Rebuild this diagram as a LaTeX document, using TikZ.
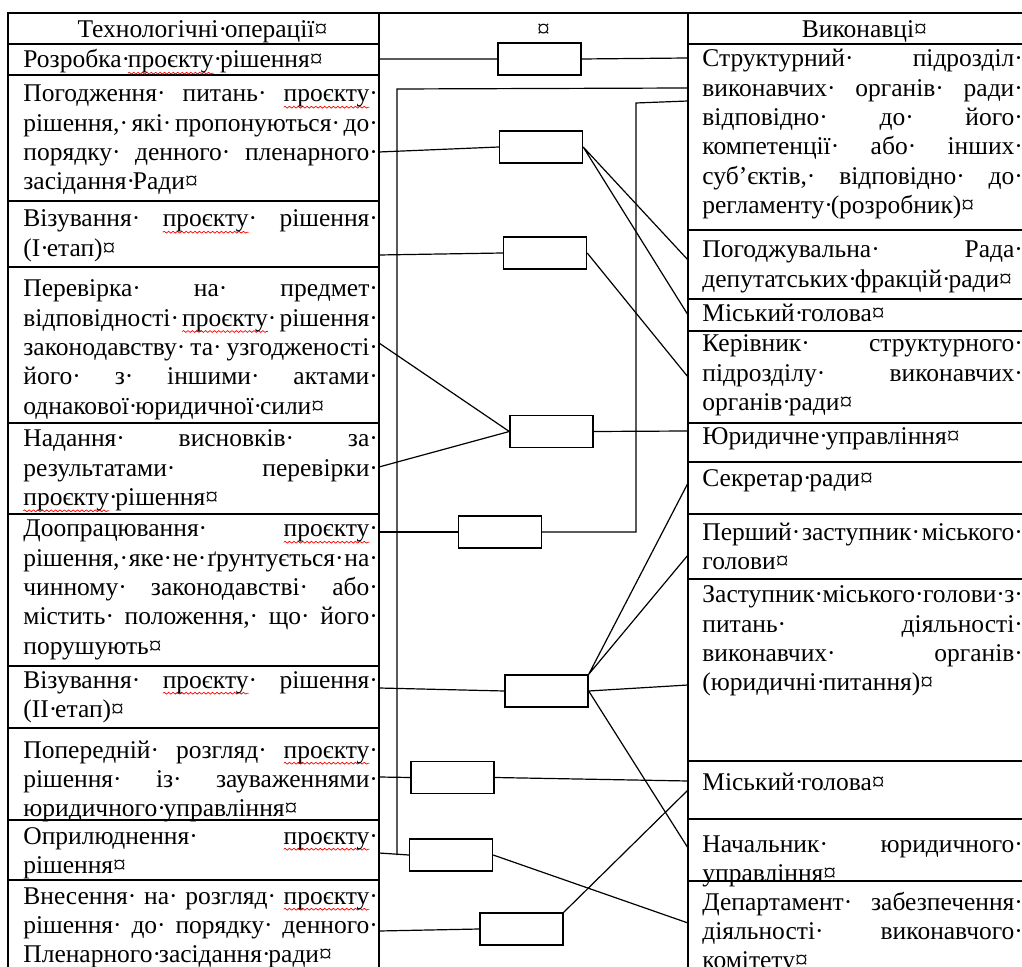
\documentclass[tikz,border=0pt]{standalone}
\usepackage{fontspec}
\setmainfont{Liberation Serif}
\usetikzlibrary{positioning,decorations.pathmorphing}
% Word-style marks: space dot and end-of-cell sign
\catcode`\·=\active
\def·{\rlap{\char"00B7}\space}
\catcode`\¤=\active
\def¤{\rlap{\char"00A4}}
\newsavebox\spellbox
\newcommand\spell[1]{\sbox\spellbox{#1}\rlap{\tikz[overlay]\draw[red,line width=.35pt,decorate,
  decoration={snake,amplitude=.45pt,segment length=2.2pt}] (0pt,-2.6pt) -- (\wd\spellbox,-2.6pt);}\usebox\spellbox}
\newcommand\cellfont{\fontsize{12.75pt}{14.65pt}\selectfont}
\tolerance=10000 \hyphenpenalty=10000 \hbadness=10000
\tikzset{
  lcell/.style={anchor=base west,text width=173pt,align=justify,inner sep=0pt,font=\cellfont},
  rcell/.style={lcell,text width=156pt},
  head/.style={anchor=base,inner sep=0pt,font=\cellfont},
  blk/.style={draw,line width=.7pt,minimum width=41.5pt,minimum height=16pt,inner sep=0pt},
  link/.style={line width=.6pt},
  tline/.style={line width=.8pt}
}
\begin{document}
\begin{tikzpicture}[x=0.5pt,y=-0.5pt]
\useasboundingbox (0,0) rectangle (1022,967);
\clip (0,0) rectangle (1022,967);
% table
\draw[tline] (8,990) -- (8,13) -- (1040,13);
\draw[tline] (379,13) -- (379,990) (688,13) -- (688,990);
\foreach \y in {44,75,201,267,423,514,666,728,820,880}
  \draw[tline] (8,\y) -- (379,\y);
\foreach \y in {44,230,299,331,423,462,514,579,761,819,881}
  \draw[tline] (688,\y) -- (1040,\y);

% headers
\node[head] (hops) at (196,38) {Технологічні·операції¤};
\node[head] (hmid) at (537,38) {¤};
\node[head] (hexe) at (858,38) {Виконавці¤};

% operations
\node[lcell] (op1) at (23,68) {Розробка·\spell{проєкту}·рішення¤};
\node[lcell] (op2) at (23,102) {Погодження·питань·\spell{проєкту}·\linebreak
  рішення,·які·пропонуються·до·\linebreak порядку·денного·пленарного·\linebreak засідання·Ради¤};
\node[lcell] (op3) at (23,227) {Візування·\spell{проєкту}·рішення·\linebreak (I·етап)¤};
\node[lcell] (op4) at (23,297) {Перевірка·на·предмет·\linebreak відповідності·\spell{проєкту}·рішення·\linebreak
  законодавству·та·узгодженості·\linebreak його·з·іншими·актами·\linebreak однакової·юридичної·сили¤};
\node[lcell] (op5) at (23,447) {Надання·висновків·за·\linebreak результатами·перевірки·\linebreak \spell{проєкту}·рішення¤};
\node[lcell] (op6) at (23,537) {Доопрацювання·\spell{проєкту}·\linebreak рішення,·яке·не·ґрунтується·на·\linebreak
  чинному·законодавстві·або·\linebreak містить·положення,·що·його·\linebreak порушують¤};
\node[lcell] (op7) at (23,688) {Візування·\spell{проєкту}·рішення·\linebreak (II·етап)¤};
\node[lcell] (op8) at (23,758) {Попередній·розгляд·\spell{проєкту}·\linebreak рішення·із·зауваженнями·\linebreak юридичного·управління¤};
\node[lcell] (op9) at (23,844) {Оприлюднення·\spell{проєкту}·\linebreak рішення¤};
\node[lcell] (op10) at (23,904) {Внесення·на·розгляд·\spell{проєкту}·\linebreak рішення·до·порядку·денного·\linebreak Пленарного·засідання·ради¤};

% executors
\node[rcell] (ex1) at (702,67) {Структурний·підрозділ·\linebreak виконавчих·органів·ради·\linebreak відповідно·до·його·\linebreak
  компетенції·або·інших·\linebreak суб’єктів,·відповідно·до·\linebreak регламенту·(розробник)¤};
\node[rcell] (ex2) at (702,258) {Погоджувальна·Рада·\linebreak депутатських·фракцій·ради¤};
\node[rcell] (ex3) at (702,322) {Міський·голова¤};
\node[rcell] (ex4) at (702,352) {Керівник·структурного·\linebreak підрозділу·виконавчих·\linebreak органів·ради¤};
\node[rcell] (ex5) at (702,445) {Юридичне·управління¤};
\node[rcell] (ex6) at (702,487) {Секретар·ради¤};
\node[rcell] (ex7) at (702,540) {Перший·заступник·міського·\linebreak голови¤};
\node[rcell] (ex8) at (702,603) {Заступник·міського·голови·з·\linebreak питань·діяльності·\linebreak виконавчих·органів·\linebreak (юридичні·питання)¤};
\node[rcell] (ex9) at (702,790) {Міський·голова¤};
\node[rcell] (ex10) at (702,852) {Начальник·юридичного·\linebreak управління¤};
\node[rcell] (ex11) at (702,910) {Департамент·забезпечення·\linebreak діяльності·виконавчого·\linebreak комітету¤};

% middle blocks
\node[blk] (s1) at (539.5,59) {};
\node[blk] (s2) at (541,147) {};
\node[blk] (s3) at (545,253) {};
\node[blk] (s4) at (551.5,431.5) {};
\node[blk] (s5) at (500,532) {};
\node[blk] (s6) at (546.5,691) {};
\node[blk] (s7) at (452.5,777.5) {};
\node[blk] (s8) at (451,855) {};
\node[blk] (s9) at (521.5,929) {};

% ends on the column borders
\coordinate (a1) at (379,59);
\coordinate (a2) at (379,152);
\coordinate (a3) at (379,255);
\coordinate (a4) at (379,343);
\coordinate (a5) at (379,467);
\coordinate (a6) at (379,532);
\coordinate (a7) at (379,688);
\coordinate (a8) at (379,777);
\coordinate (a9) at (379,853);
\coordinate (a10) at (379,931);
\coordinate (e1a) at (688,58);
\coordinate (e1b) at (688,88);
\coordinate (e1c) at (688,101);
\coordinate (e2) at (688,260);
\coordinate (e3) at (688,315);
\coordinate (e4) at (688,377);
\coordinate (e5) at (688,431);
\coordinate (e6) at (688,483);
\coordinate (e7) at (688,555);
\coordinate (e8) at (688,685);
\coordinate (e9a) at (688,781);
\coordinate (e9b) at (688,790);
\coordinate (e10) at (688,848);
\coordinate (e11) at (688,923);
\coordinate (k1) at (397,89);
\coordinate (k2) at (636,103);

% links
\draw[link] (a1) -- (s1.west) (s1.east) -- (e1a);
\draw[link] (e1b) -- (k1) -- (k1 |- s8.west);
\draw[link] (a2) -- (s2.west) (s2.east) -- (e2) (s2.east) -- (e3);
\draw[link] (a3) -- (s3.west) (s3.east) -- (e4);
\draw[link] (a4) -- (s4.west) (a5) -- (s4.west) (s4.east) -- (e5);
\draw[link] (a6) -- (s5.west);
\draw[link] (s5.east) -| (k2) -- (e1c);
\draw[link] (a7) -- (s6.west);
\draw[link] (s6.north east) -- (e6) (s6.north east) -- (e7);
\draw[link] (s6.east) -- (e8) (s6.east) -- (e10);
\draw[link] (a8) -- (s7.west) (s7.east) -- (e9a);
\draw[link] (a9) -- (s8.west) (s8.east) -- (e11);
\draw[link] (a10) -- (s9.west) (s9.north east) -- (e9b);
\end{tikzpicture}
\end{document}
